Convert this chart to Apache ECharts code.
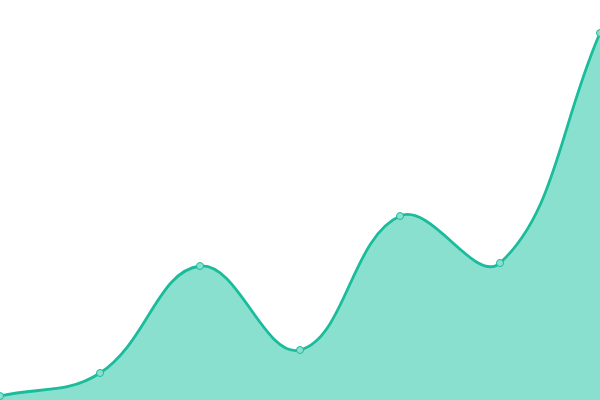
<!DOCTYPE html>
<html>
<head>
<meta charset="utf-8">
<script src="https://cdn.jsdelivr.net/npm/echarts@6/dist/echarts.min.js"></script>
<style>
  html, body { margin: 0; padding: 0; background: #fff; }
  #main { width: 600px; height: 400px; }
</style>
</head>
<body>
<div id="main"></div>
<script>
const categories = ['1', '2', '3', '4', '5', '6', '7']
const values = [4, 27, 134, 50, 184, 137, 367]

const TENSION = 0.4
const LINE = '#1abc9c'
const AREA = '#8ae0cf'

// cardinal-ish spline (overshoots at peaks), built from the axis coords
const curvePath = (pts) => {
  let d = ''
  const cps = pts.map((p, i) => {
    const prev = pts[i - 1] || p
    const next = pts[i + 1] || p
    const d01 = Math.hypot(p[0] - prev[0], p[1] - prev[1])
    const d12 = Math.hypot(next[0] - p[0], next[1] - p[1])
    let s01 = d01 / (d01 + d12)
    let s12 = d12 / (d01 + d12)
    if (isNaN(s01)) s01 = 0
    if (isNaN(s12)) s12 = 0
    const fa = TENSION * s01
    const fb = TENSION * s12
    return {
      prev: [p[0] - fa * (next[0] - prev[0]), p[1] - fa * (next[1] - prev[1])],
      next: [p[0] + fb * (next[0] - prev[0]), p[1] + fb * (next[1] - prev[1])]
    }
  })
  for (let i = 1; i < pts.length; i++) {
    const a = cps[i - 1].next
    const b = cps[i].prev
    d += ' C' + a[0] + ',' + a[1] + ' ' + b[0] + ',' + b[1] + ' ' + pts[i][0] + ',' + pts[i][1]
  }
  return d
}

const renderCurve = (params, api) => {
  if (params.dataIndex !== 0) return null
  const pts = values.map((v, i) => api.coord([i, v]))
  const base = api.coord([0, 0])[1]
  const curve = curvePath(pts)
  const start = 'M' + pts[0][0] + ',' + pts[0][1]
  const last = pts[pts.length - 1]
  return {
    type: 'group',
    children: [{
      type: 'path',
      shape: {
        pathData: 'M' + pts[0][0] + ',' + base + ' L' + pts[0][0] + ',' + pts[0][1] + curve +
          ' L' + last[0] + ',' + base + ' Z'
      },
      style: { fill: AREA, stroke: null }
    }, {
      type: 'path',
      shape: { pathData: start + curve },
      style: { fill: null, stroke: LINE, lineWidth: 2.8 }
    }]
  }
}

const chart = echarts.init(document.getElementById('main'))
chart.setOption({
  animation: false,
  grid: { left: 0, right: 0, top: 0, bottom: 0 },
  xAxis: {
    type: 'category',
    data: categories,
    boundaryGap: false,
    show: false
  },
  yAxis: {
    type: 'value',
    min: 0,
    max: 400,
    show: false
  },
  series: [{
    type: 'custom',
    renderItem: renderCurve,
    data: values.map((v, i) => [i, v]),
    encode: { x: 0, y: 1 },
    z: 1
  }, {
    type: 'line',
    data: values,
    symbol: 'circle',
    symbolSize: 7,
    lineStyle: { width: 0 },
    itemStyle: { color: AREA, borderColor: LINE, borderWidth: 1 },
    z: 2
  }]
})
</script>
</body>
</html>
